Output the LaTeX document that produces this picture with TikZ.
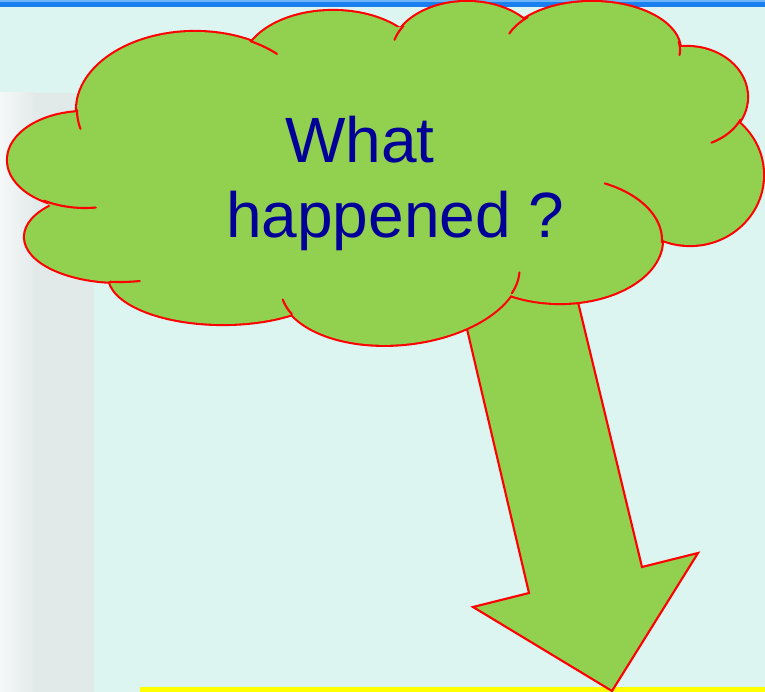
\documentclass[tikz,border=0pt]{standalone}
\usepackage{fontspec}
\setmainfont{Liberation Sans}
\definecolor{bgcyan}{HTML}{DCF5F1}
\definecolor{stripL}{HTML}{F6F8F8}
\definecolor{stripR}{HTML}{E2EAE9}
\definecolor{topblue}{HTML}{1A7FF0}
\definecolor{toplight}{HTML}{6DB3F7}
\definecolor{cloudgreen}{HTML}{92D050}
\definecolor{textnavy}{HTML}{000099}
\definecolor{bandyellow}{HTML}{FFFF00}
\newcommand\cloudlobes[1]{%
  \path[#1] (195,110) ellipse [x radius=118pt, y radius=78pt];
  \path[#1] (333,66) ellipse [x radius=90pt, y radius=55pt];
  \path[#1] (467,53) ellipse [x radius=75pt, y radius=51pt];
  \path[#1] (592,50) ellipse [x radius=88pt, y radius=48pt];
  \path[#1] (687,97) ellipse [x radius=60pt, y radius=50pt];
  \path[#1] (690,175) ellipse [x radius=73pt, y radius=70pt];
  \path[#1] (560,240) ellipse [x radius=102pt, y radius=63pt];
  \path[#1, rotate around={6:(400,278)}] (400,278) ellipse [x radius=120pt, y radius=66pt];
  \path[#1] (223,276) ellipse [x radius=114pt, y radius=48pt];
  \path[#1] (120,237) ellipse [x radius=95pt, y radius=45pt];
  \path[#1] (85,160) ellipse [x radius=77pt, y radius=48pt];
}
\begin{document}
\begin{tikzpicture}[x=1pt,y=-1pt,
  outline/.style={draw=red, line width=2.1pt},
  stub/.style={draw=red, line width=2.1pt, line cap=round},
  label/.style={anchor=base west, inner sep=0pt, text=textnavy, font=\fontsize{64}{64}\selectfont}]
\useasboundingbox (0,0) rectangle (765,692);
% background
\fill[bgcyan] (0,0) rectangle (765,692);
\shade[left color=stripL, right color=stripR] (0,93) rectangle (36,692);
\fill[stripR] (36,93) rectangle (94,692);
\fill[toplight] (0,0.5) rectangle (765,2.5);
\fill[topblue] (0,2.5) rectangle (765,7);
\fill[bandyellow] (140,687) rectangle (765,692);
% arrow
\draw[outline, fill=cloudgreen, line join=miter]
  (448,250) -- (467,329) -- (529,593) -- (473,607) -- (612,691)
  -- (698,553) -- (642,567) -- (578,302) -- (559,223) -- cycle;
% cloud: outer outline then fill
\cloudlobes{draw=red, line width=4.2pt}
\cloudlobes{fill=cloudgreen}
\fill[cloudgreen] (77,115) -- (253,42) -- (400,27) -- (528,20) -- (678,45)
  -- (738,122) -- (662,240) -- (507,293) -- (296,312) -- (110,282) -- (47,202) -- cycle;
% inner stubs of the cloud
\draw[stub] plot[domain=166:180, samples=20] ({195+118*cos(\x)},{110+78*sin(\x)});
\draw[stub] plot[domain=-62:-46, samples=20] ({195+118*cos(\x)},{110+78*sin(\x)});
\draw[stub] plot[domain=195:212, samples=20] ({467+75*cos(\x)},{53+51*sin(\x)});
\draw[stub] plot[domain=200:223, samples=20] ({592+88*cos(\x)},{50+48*sin(\x)});
\draw[stub] plot[domain=-10:6, samples=20] ({592+88*cos(\x)},{50+48*sin(\x)});
\draw[stub] plot[domain=27:66, samples=20] ({687+60*cos(\x)},{97+50*sin(\x)});
\draw[stub] plot[domain=-64:2, samples=30] ({560+102*cos(\x)},{240+63*sin(\x)});
\draw[stub, rotate around={6:(400,278)}] plot[domain=158:172, samples=20] ({400+120*cos(\x)},{278+66*sin(\x)});
\draw[stub, rotate around={6:(400,278)}] plot[domain=6:24, samples=20] ({400+120*cos(\x)},{278+66*sin(\x)});
\draw[stub] plot[domain=78:96, samples=20] ({120+95*cos(\x)},{237+45*sin(\x)});
\draw[stub] plot[domain=82:122, samples=20] ({85+77*cos(\x)},{160+48*sin(\x)});
% text
\node[label] (what) at (285,163) {What};
\node[label] (happened) at (226,238) {happened ?};
\end{tikzpicture}
\end{document}
